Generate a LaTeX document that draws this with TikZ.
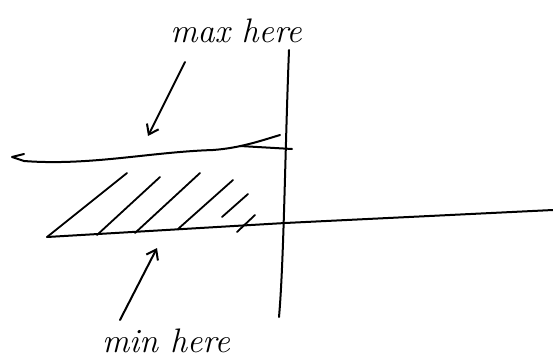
\documentclass[tikz,border=0pt]{standalone}
\usetikzlibrary{arrows.meta}
\begin{document}
\begin{tikzpicture}[x=1pt,y=-1pt,
  pen/.style={line width=2pt,line cap=round,line join=round},
  hatch/.style={line width=1.8pt,line cap=round},
  lbl/.style={font=\fontsize{34}{34}\selectfont\itshape,inner sep=0pt},
  tip/.style={-{Straight Barb[length=9pt,width=13pt,line width=2pt]}}]
\useasboundingbox (0,0) rectangle (553,361);
% vertical axis
\coordinate (vtop) at (289,50);
\coordinate (vbot) at (279,317);
\draw[pen] (vtop) .. controls (285,150) and (284,260) .. (vbot);
% bottom line
\coordinate (bl) at (47,237);
\coordinate (br) at (553,210);
\draw[pen] (bl) -- (285,223) -- (br);
% upper curve
\coordinate (ul) at (12,157);
\coordinate (ur) at (280,135);
\draw[pen] (24,154) -- (ul) -- (24,161) .. controls (90,166) and (150,152) .. (213,150) .. controls (240,148) and (260,141) .. (ur);
\draw[pen] (240,146) -- (292,149);
% hatching
\draw[hatch] (bl) -- (127,173);
\draw[hatch] (97,235) -- (160,177);
\draw[hatch] (135,233) -- (200,173);
\draw[hatch] (178,229) -- (233,180);
\draw[hatch] (222,217) -- (248,194);
\draw[hatch] (237,232) -- (255,215);
% labels
\node[lbl] (max) at (236,31) {max here};
\node[lbl] (min) at (166,341) {min here};
\coordinate (maxtail) at (185,62);
\coordinate (maxhead) at (148,136);
\coordinate (mintail) at (120,320);
\coordinate (minhead) at (157,248);
\draw[pen,tip] (maxtail) -- (maxhead);
\draw[pen,tip] (mintail) -- (minhead);
\end{tikzpicture}
\end{document}
